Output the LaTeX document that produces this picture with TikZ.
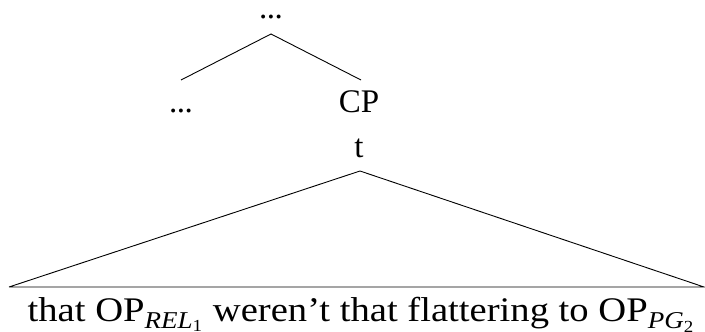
\documentclass[tikz,border=0pt]{standalone}
\usepackage{fontspec}
\setmainfont{Liberation Serif}
\newfontfamily\widefont[FakeStretch=1.12]{Liberation Serif}
\newcommand{\dotsthree}{.\kern-0.5pt.\kern-0.5pt.}
\begin{document}
\begin{tikzpicture}[x=1pt,y=-1pt,
  lbl/.style={inner sep=0pt,anchor=base,font=\fontsize{33}{36}\selectfont},
  edge/.style={line width=0.9pt}]
\useasboundingbox (0,0) rectangle (705,332);
\node[lbl] (top) at (271,19) {\dotsthree};
\node[lbl] (left) at (181,112) {\dotsthree};
\node[lbl] (cp) at (359,112) {CP};
\node[lbl] (t) at (359,157) {t};
\node[lbl,font=\widefont\fontsize{34.5}{36}\selectfont] (yield) at (361,321) {that OP\textsubscript{\textit{REL}\textsubscript{1}} weren’t that flattering to OP\textsubscript{\textit{PG}\textsubscript{2}}};
\coordinate (a1) at (271,34);
\coordinate (l1) at (181,80);
\coordinate (r1) at (361,80);
\coordinate (a2) at (360,171);
\coordinate (bl) at (9,287);
\coordinate (br) at (704,287);
\draw[edge] (l1) -- (a1) -- (r1);
\draw[edge] (bl) -- (a2) -- (br) -- (bl);
\end{tikzpicture}
\end{document}
